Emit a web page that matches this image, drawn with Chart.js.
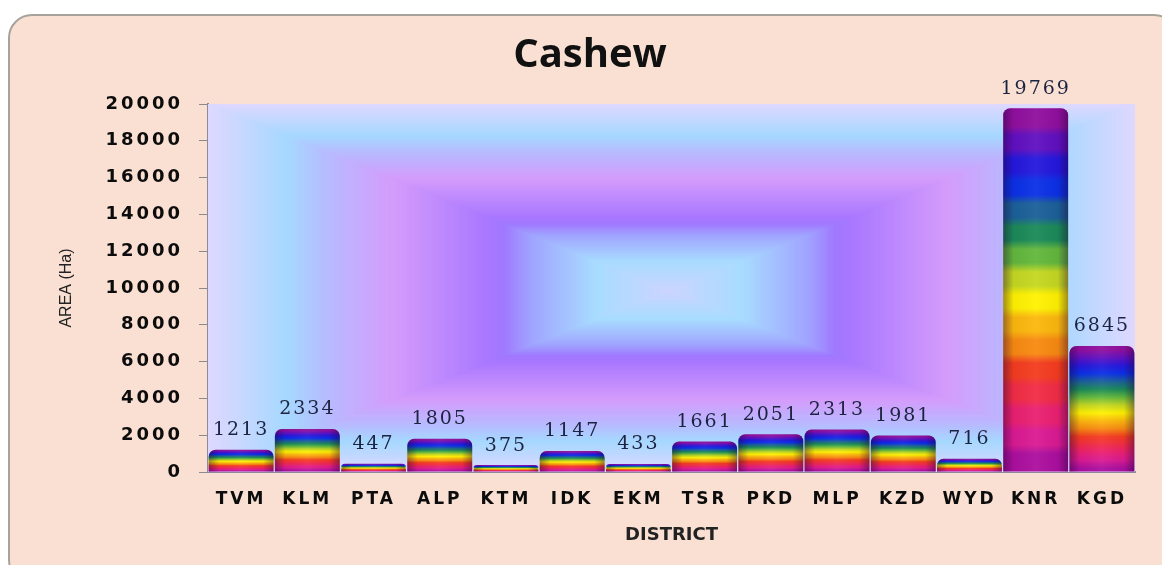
<!DOCTYPE html>
<html>
<head>
<meta charset="utf-8">
<title>Cashew</title>
<script src="https://cdn.jsdelivr.net/npm/chart.js@4"></script>
<style>
    html, body { margin: 0; padding: 0; background: #fff; width: 1162px; height: 565px; overflow: hidden; }
    #card {
        position: absolute; left: 8px; top: 14px; width: 1170px; height: 570px;
        box-sizing: border-box; background: #f9e0d3;
        border: 2px solid #a8a29c; border-radius: 24px;
    }
    #cashewChart { position: absolute; left: 0; top: 0; }
</style>
</head>
<body>
<div id="card"></div>
<canvas id="cashewChart" width="1162" height="565"></canvas>
<script>
// Chart data
const districts = ['TVM', 'KLM', 'PTA', 'ALP', 'KTM', 'IDK', 'EKM', 'TSR', 'PKD', 'MLP', 'KZD', 'WYD', 'KNR', 'KGD'];
const areaHa = [1213, 2334, 447, 1805, 375, 1147, 433, 1661, 2051, 2313, 1981, 716, 19769, 6845];
const yTicks = [0, 2000, 4000, 6000, 8000, 10000, 12000, 14000, 16000, 18000, 20000];

// rainbow bands, bottom of the bar to the top
const bandColors = [
    '#ac0f9e', '#da1a92', '#ea2070', '#f22c44', '#f43c1e', '#f88a10', '#fcb80c', '#fff200',
    '#c4d820', '#62b83c', '#1a8a58', '#1a6098', '#0a30e6', '#2418dc', '#6010c0', '#900f9e'
];

// plot background colours, edge of the plot (0) to the centre (1)
const backStops = [
    [0, [222, 216, 255]], [0.17, [166, 216, 255]], [0.26, [184, 186, 255]], [0.4, [212, 156, 251]],
    [0.6, [170, 120, 255]], [0.64, [160, 120, 255]], [0.7, [160, 164, 255]], [0.84, [168, 220, 255]], [1, [204, 212, 255]]
];

function backColor(t) {
    let i = 0;
    while (i < backStops.length - 2 && t > backStops[i + 1][0]) i++;
    const [t0, c0] = backStops[i];
    const [t1, c1] = backStops[i + 1];
    const f = (t - t0) / (t1 - t0);
    return `rgb(${c0.map((c, k) => Math.round(c + (c1[k] - c) * f)).join(',')})`;
}

function barGradient(context) {
    const chart = context.chart;
    if (!chart.chartArea || context.type !== 'data') return bandColors[0];
    const yScale = chart.scales.y;
    const base = yScale.getPixelForValue(0);
    const top = yScale.getPixelForValue(areaHa[context.dataIndex]);
    const grad = chart.ctx.createLinearGradient(0, base, 0, top);
    const n = bandColors.length;
    // tall bars keep visible bands, short ones blend into a smooth rainbow
    const flat = base - top > 200 ? 0.3 : 0;
    bandColors.forEach((c, i) => {
        grad.addColorStop((i + 0.5 - flat) / n, c);
        grad.addColorStop((i + 0.5 + flat) / n, c);
    });
    return grad;
}

// nested rectangle fill behind the bars, outermost first
const plotBackground = {
    id: 'plotBackground',
    beforeDatasetsDraw(chart) {
        const { ctx, chartArea: a } = chart;
        const cx = (a.left + a.right) / 2 - 3;
        const cy = (a.top + a.bottom) / 2 + 3;
        const steps = 240;
        ctx.save();
        for (let s = 0; s < steps; s++) {
            const t = s / steps;
            const left = a.left + (cx - a.left) * t;
            const right = a.right + (cx - a.right) * t;
            const top = a.top + (cy - a.top) * t;
            const bottom = a.bottom + (cy - a.bottom) * t;
            ctx.fillStyle = backColor(t);
            ctx.fillRect(left, top, right - left, bottom - top);
        }
        ctx.restore();
    }
};

// cylinder shading and value labels on top of the bars
const barExtras = {
    id: 'barExtras',
    afterDatasetsDraw(chart) {
        const ctx = chart.ctx;
        const bars = chart.getDatasetMeta(0).data;
        bars.forEach((bar, i) => {
            const left = bar.x - bar.width / 2;
            const grad = ctx.createLinearGradient(left, 0, left + bar.width, 0);
            grad.addColorStop(0, 'rgba(30,0,50,0.42)');
            grad.addColorStop(0.16, 'rgba(30,0,50,0.04)');
            grad.addColorStop(0.5, 'rgba(255,255,255,0.05)');
            grad.addColorStop(0.84, 'rgba(30,0,50,0.04)');
            grad.addColorStop(1, 'rgba(30,0,50,0.42)');
            ctx.save();
            ctx.beginPath();
            ctx.roundRect(left, bar.y, bar.width, bar.base - bar.y, [7, 7, 0, 0]);
            ctx.fillStyle = grad;
            ctx.fill();
            ctx.restore();

            ctx.save();
            ctx.font = '19px "DejaVu Serif"';
            ctx.letterSpacing = '2px';
            ctx.fillStyle = '#1c2340';
            ctx.textAlign = 'center';
            ctx.textBaseline = 'bottom';
            ctx.fillText(String(areaHa[i]), bar.x, bar.y - 10);
            ctx.restore();
        });
        // tick labels are on a layer after this hook (ticks.z), they get wider spacing
        ctx.letterSpacing = '3px';
    },
    afterDraw(chart) {
        chart.ctx.letterSpacing = '0px';
    }
};

new Chart(document.getElementById('cashewChart').getContext('2d'), {
    type: 'bar',
    data: {
        labels: districts,
        datasets: [{
            label: 'AREA (Ha)',
            data: areaHa,
            backgroundColor: barGradient,
            borderWidth: 0,
            borderRadius: { topLeft: 7, topRight: 7, bottomLeft: 0, bottomRight: 0 },
            borderSkipped: false,
            barPercentage: 1,
            categoryPercentage: 0.98
        }]
    },
    options: {
        responsive: false,
        animation: false,
        layout: { padding: { left: 45, right: 27, top: 0, bottom: 0 } },
        plugins: {
            legend: { display: false },
            tooltip: { enabled: false },
            title: {
                display: true,
                text: 'Cashew',
                color: '#111',
                font: { family: '"Open Sans"', size: 40, weight: 'bold' },
                padding: { top: 32, bottom: 24 }
            }
        },
        scales: {
            x: {
                grid: { display: false, drawTicks: false },
                border: { color: '#8c8a9c', width: 2 },
                ticks: {
                    z: 1,
                    color: '#0c0c0c',
                    padding: 17,
                    maxRotation: 0,
                    autoSkip: false,
                    font: { family: '"DejaVu Sans"', size: 17, weight: 'bold' }
                },
                title: {
                    display: true,
                    text: 'DISTRICT',
                    color: '#222',
                    font: { family: '"DejaVu Sans"', size: 18, weight: 'bold' },
                    padding: { top: 0, bottom: 19 }
                },
                afterFit(scale) { scale.height = 93; }
            },
            y: {
                min: 0,
                max: 20000,
                afterBuildTicks(scale) { scale.ticks = yTicks.map(v => ({ value: v })); },
                grid: { drawOnChartArea: false, drawTicks: true, tickLength: 9, color: '#8c8a8c' },
                border: { color: '#8c8a9c', width: 2 },
                ticks: {
                    z: 1,
                    color: '#0c0c0c',
                    padding: 16,
                    callback: v => String(v),
                    font: { family: '"DejaVu Sans"', size: 18, weight: 'bold' }
                },
                title: {
                    display: true,
                    text: 'AREA (Ha)',
                    color: '#222',
                    font: { family: '"Liberation Sans"', size: 16 },
                    padding: { top: 12, bottom: 0 }
                },
                afterFit(scale) { scale.width = 163; }
            }
        }
    },
    plugins: [plotBackground, barExtras]
});
</script>
</body>
</html>
